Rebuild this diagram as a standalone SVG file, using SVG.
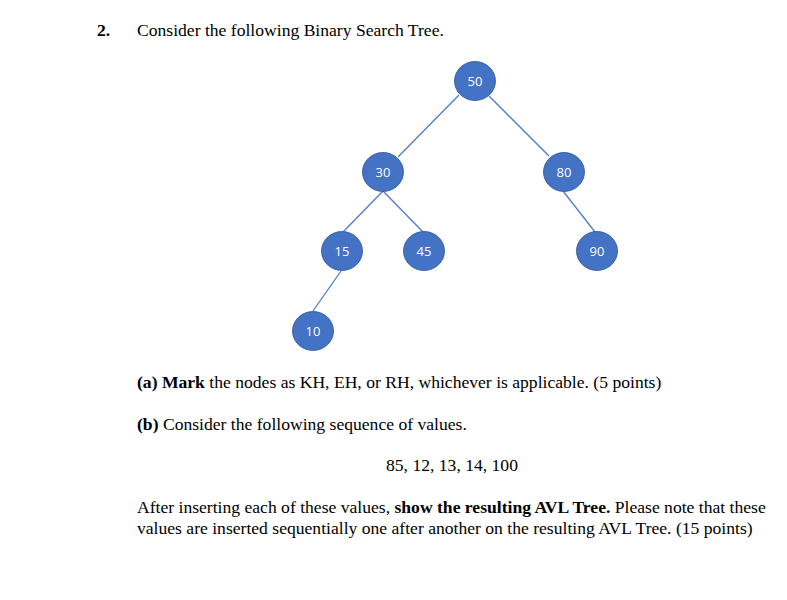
<svg xmlns="http://www.w3.org/2000/svg" width="787" height="600" viewBox="0 0 787 600">
<style>
.t{font-family:"Liberation Serif",serif;font-size:17.6px;fill:#000}
.n ellipse{fill:#4472C4;stroke:#2f5597;stroke-width:0.8}
.n text{font-family:"Open Sans","Liberation Sans",sans-serif;font-size:13px;fill:#fff;text-anchor:middle}
.e line{stroke:#4f7cc8;stroke-width:1.3}
</style>
<rect width="787" height="600" fill="#fff"/>
<text class="t" x="97" y="36" font-weight="bold">2.</text>
<text class="t" x="137" y="36">Consider the following Binary Search Tree.</text>
<g class="e">
<line x1="459" y1="95" x2="398" y2="157"/>
<line x1="489" y1="96" x2="549" y2="156"/>
<line x1="383" y1="191" x2="343" y2="232"/>
<line x1="383" y1="191" x2="423" y2="232"/>
<line x1="563" y1="191" x2="595" y2="232"/>
<line x1="341" y1="271" x2="313" y2="311"/>
</g>
<g id="n50" class="n"><ellipse cx="475" cy="81" rx="20.5" ry="19.5"/><text x="475" y="85.5">50</text></g>
<g id="n30" class="n"><ellipse cx="383" cy="172" rx="20.5" ry="19.5"/><text x="383" y="176.5">30</text></g>
<g id="n80" class="n"><ellipse cx="564" cy="172" rx="20.5" ry="19.5"/><text x="564" y="176.5">80</text></g>
<g id="n15" class="n"><ellipse cx="342" cy="251" rx="20.5" ry="19.5"/><text x="342" y="255.5">15</text></g>
<g id="n45" class="n"><ellipse cx="424" cy="251" rx="20.5" ry="19.5"/><text x="424" y="255.5">45</text></g>
<g id="n90" class="n"><ellipse cx="597" cy="251" rx="20.5" ry="19.5"/><text x="597" y="255.5">90</text></g>
<g id="n10" class="n"><ellipse cx="313" cy="331" rx="20.5" ry="19.5"/><text x="313" y="335.5">10</text></g>
<text class="t" x="137" y="388"><tspan font-weight="bold">(a) Mark</tspan> the nodes as KH, EH, or RH, whichever is applicable. (5 points)</text>
<text class="t" x="137" y="430"><tspan font-weight="bold">(b)</tspan> Consider the following sequence of values.</text>
<text class="t" x="386" y="471">85, 12, 13, 14, 100</text>
<text class="t" x="137" y="513">After inserting each of these values, <tspan font-weight="bold">show the resulting AVL Tree.</tspan> Please note that these</text>
<text class="t" x="137" y="534">values are inserted sequentially one after another on the resulting AVL Tree. (15 points)</text>
</svg>
